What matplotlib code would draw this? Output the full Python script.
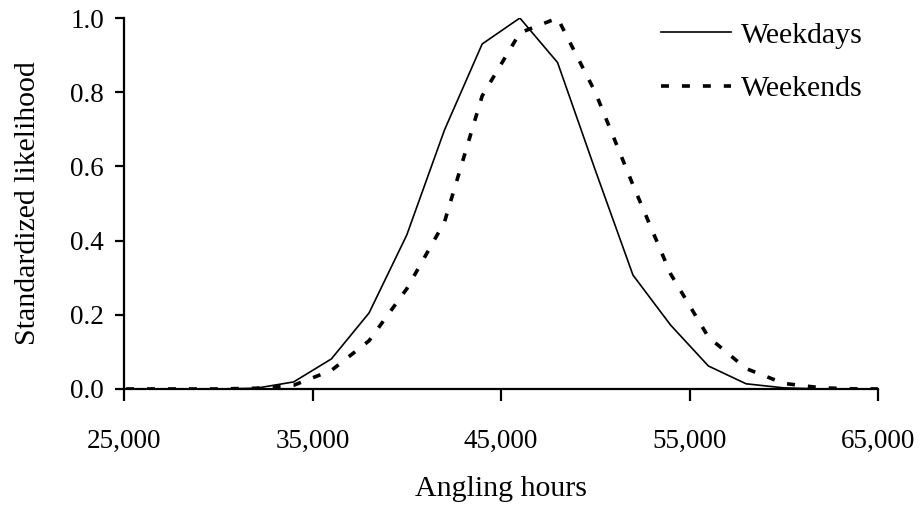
import matplotlib
matplotlib.use("Agg")
import matplotlib.pyplot as plt
from matplotlib.ticker import FuncFormatter

# angling hours (every 2,000)
hours = [24000, 26000, 28000, 30000, 32000, 34000, 36000, 38000, 40000, 42000,
         44000, 46000, 48000, 50000, 52000, 54000, 56000, 58000, 60000, 62000,
         64000, 66000]

weekdays = [0.0, 0.0, 0.0, 0.0, 0.002, 0.019, 0.081, 0.205, 0.415, 0.698,
            0.93, 1.0, 0.88, 0.59, 0.307, 0.172, 0.062, 0.014, 0.003, 0.0,
            0.0, 0.0]

weekends = [0.0, 0.0, 0.0, 0.0, 0.002, 0.01, 0.05, 0.13, 0.27, 0.45,
            0.79, 0.96, 1.0, 0.80, 0.55, 0.31, 0.14, 0.055, 0.015, 0.003,
            0.0, 0.0]

x_ticks = [25000, 35000, 45000, 55000, 65000]
y_ticks = [0.0, 0.2, 0.4, 0.6, 0.8, 1.0]

plt.rcParams["font.family"] = ["Liberation Serif", "DejaVu Serif"]

fig = plt.figure(figsize=(9.22, 5.09), dpi=100)
ax = fig.add_axes([0.1345, 0.2358, 0.8178, 0.7288])

ax.plot(hours, weekdays, color="black", linewidth=1.2, label="Weekdays")
ax.plot(hours, weekends, color="black", linewidth=2.6, dashes=(2.2, 3.6),
        dash_capstyle="butt", label="Weekends")

ax.set_xlim(25000, 65000)
ax.set_ylim(0, 1.0)
ax.set_xticks(x_ticks)
ax.set_yticks(y_ticks)
ax.xaxis.set_major_formatter(FuncFormatter(lambda v, p: f"{int(v):,}"))
ax.yaxis.set_major_formatter(FuncFormatter(lambda v, p: f"{v:.1f}"))

for side in ("top", "right"):
    ax.spines[side].set_visible(False)
for side in ("left", "bottom"):
    ax.spines[side].set_linewidth(1.6)

ax.tick_params(axis="x", direction="out", length=8.5, width=1.6, pad=20, labelsize=19.5)
ax.tick_params(axis="y", direction="out", length=6.5, width=1.6, pad=8, labelsize=19.5)

ax.set_xlabel("Angling hours", fontsize=21.5, labelpad=16)
ax.set_ylabel("Standardized likelihood", fontsize=21.5, labelpad=21)

ax.legend(loc="upper right", bbox_to_anchor=(863 / 922, 1 - 22 / 509),
          bbox_transform=fig.transFigure, frameon=False, fontsize=21.5,
          borderpad=0, borderaxespad=0,
          handlelength=2.35, handletextpad=0.33, labelspacing=0.88)

fig.savefig("out.png", dpi=100)
